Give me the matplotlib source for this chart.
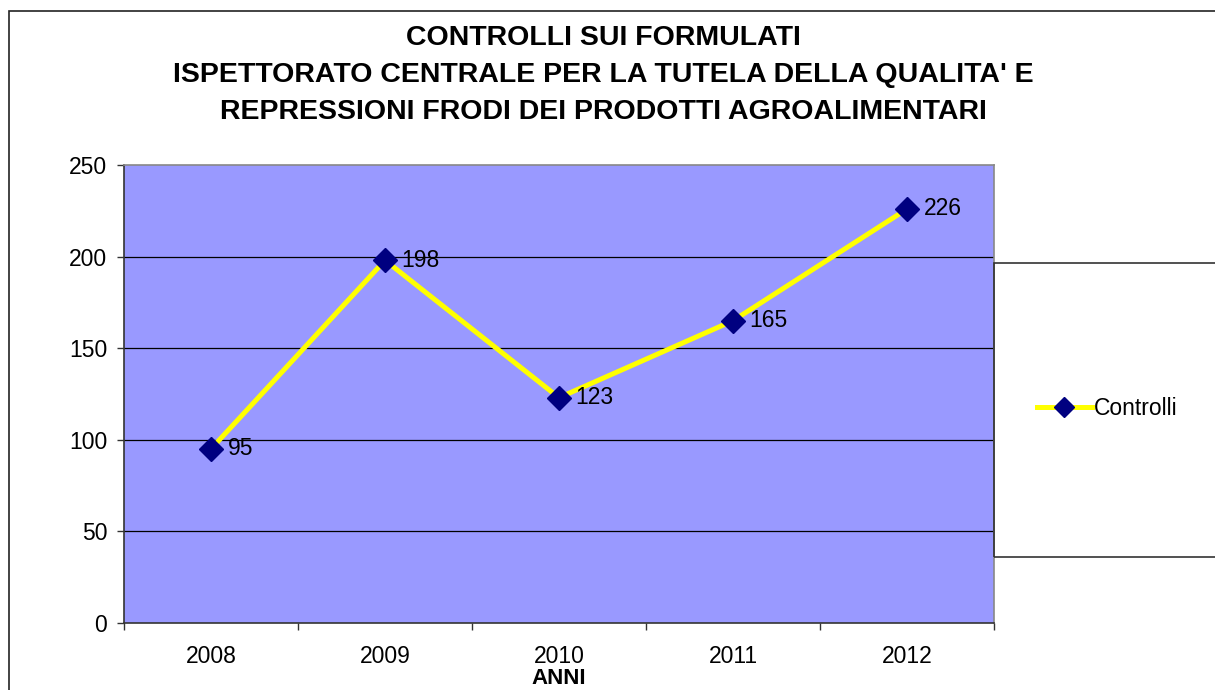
import matplotlib
matplotlib.use("Agg")
import matplotlib.pyplot as plt
from matplotlib.patches import Rectangle
from matplotlib.lines import Line2D

plt.rcParams['font.family'] = ['Liberation Sans', 'DejaVu Sans']

anni = ['2008', '2009', '2010', '2011', '2012']
controlli = [95, 198, 123, 165, 226]
yticks = [0, 50, 100, 150, 200, 250]

titolo = ["CONTROLLI SUI FORMULATI",
          "ISPETTORATO CENTRALE PER LA TUTELA DELLA QUALITA' E",
          "REPRESSIONI FRODI DEI PRODOTTI AGROALIMENTARI"]

fig = plt.figure(figsize=(12.15, 6.9), dpi=100)

# cornice esterna (tagliata a destra e in basso)
fig.patches.append(Rectangle((9 / 1215, -0.1), 1.2, 1 - 11 / 690 + 0.1,
                             transform=fig.transFigure, fill=False,
                             edgecolor='#222222', linewidth=1.2))

# riquadro legenda
fig.patches.append(Rectangle((994 / 1215, 1 - 557 / 690), 0.3, (557 - 263) / 690,
                             transform=fig.transFigure, fill=False,
                             edgecolor='#333333', linewidth=1.2, zorder=0))

ax = fig.add_axes([124 / 1215, 1 - 623 / 690, 870 / 1215, 458 / 690])
ax.set_facecolor('#9999FF')

x = list(range(len(anni)))
ax.plot(x, controlli, color='#FFFF00', linewidth=3.6, marker='D',
        markersize=12.5, markerfacecolor='#000080', markeredgecolor='#000080',
        zorder=3, label='Controlli')

for xi, v in zip(x, controlli):
    ax.annotate(str(v), (xi, v), xytext=(12, 0), textcoords='offset points',
                va='center', ha='left', fontsize=16.5, zorder=4)

ax.set_xlim(-0.5, len(anni) - 0.5)
ax.set_ylim(0, 250)
ax.set_yticks(yticks)
ax.set_yticklabels([str(t) for t in yticks])
ax.set_xticks(x)
ax.set_xticklabels(anni)
ax.set_xticks([i - 0.5 for i in range(len(anni) + 1)], minor=True)

ax.tick_params(axis='y', labelsize=16.5, length=5, width=1, color='#333333', pad=7)
ax.tick_params(axis='x', which='major', labelsize=16.5, length=0, pad=16)
ax.tick_params(axis='x', which='minor', length=5, width=1, color='#333333')

for yv in yticks[1:-1]:
    ax.axhline(yv, color='black', linewidth=0.9, zorder=1)

for s in ['top', 'right']:
    ax.spines[s].set_color('#888888')
    ax.spines[s].set_linewidth(1.2)
for s in ['left', 'bottom']:
    ax.spines[s].set_color('#333333')
    ax.spines[s].set_linewidth(1.2)

fig.text(559 / 1215, 1 - 678 / 690, 'ANNI', ha='center', va='center',
         fontsize=16, fontweight='bold')

for i, riga in enumerate(titolo):
    fig.text(603 / 1215, 1 - (38 + 37 * i) / 690, riga, ha='center', va='center',
             fontsize=20.5, fontweight='bold')

handle = Line2D([], [], color='#FFFF00', linewidth=3.6, marker='D', markersize=10,
                markerfacecolor='#000080', markeredgecolor='#000080')
fig.legend([handle], ['Controlli'], loc='center left',
           bbox_to_anchor=(1016 / 1215, 1 - 409 / 690), frameon=False,
           fontsize=16.5, handlelength=2.4, handletextpad=0.1)

fig.savefig('out.png', dpi=100)
